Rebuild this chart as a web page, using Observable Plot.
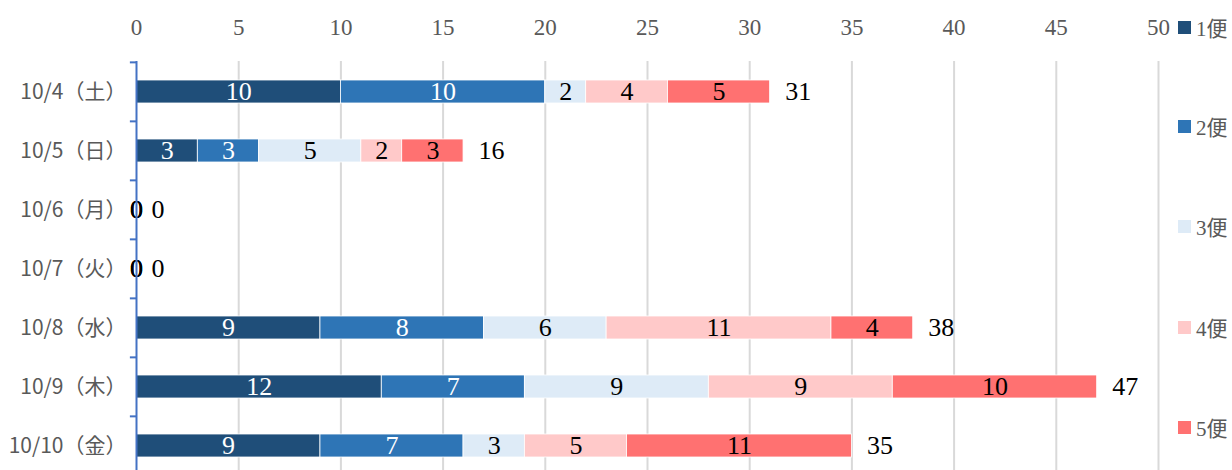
<!DOCTYPE html>
<html>
<head>
<meta charset="utf-8">
<script src="https://cdn.jsdelivr.net/npm/d3@7"></script>
<script src="https://cdn.jsdelivr.net/npm/@observablehq/plot@0.6"></script>
<style>
  html, body { margin: 0; padding: 0; background: #fff; }
  #wrap { position: relative; width: 1232px; height: 470px; overflow: hidden; }
  #legend { position: absolute; left: 1178px; top: 0; font-family: "Liberation Serif", "Noto Sans CJK JP", serif; font-size: 21px; color: #595959; }
  .item { position: absolute; left: 0; display: flex; align-items: center; white-space: nowrap; }
  .sw { width: 13px; height: 13px; margin-right: 5px; }
</style>
</head>
<body>
<div id="wrap"><div id="legend"></div></div>
<script>
const dates = ["10/4（土）", "10/5（日）", "10/6（月）", "10/7（火）", "10/8（水）", "10/9（木）", "10/10（金）"];
const series = ["1便", "2便", "3便", "4便", "5便"];
const v1 = [10, 3, 0, 0, 9, 12, 9];
const v2 = [10, 3, 0, 0, 8, 7, 7];
const v3 = [2, 5, 0, 0, 6, 9, 3];
const v4 = [4, 2, 0, 0, 11, 9, 5];
const v5 = [5, 3, 0, 0, 4, 10, 11];
const totals = [31, 16, 0, 0, 38, 47, 35];
const colors = ["#1F4E79", "#2E75B6", "#DEEBF7", "#FFC9C9", "#FF7171"];
const xTicks = [0, 5, 10, 15, 20, 25, 30, 35, 40, 45, 50];
const gridTicks = [5, 10, 15, 20, 25, 30, 35, 40, 45, 50];
const legendY = [27, 126, 226, 327, 427];

const valueSets = [v1, v2, v3, v4, v5];
const data = [];
dates.forEach((d, i) => {
  series.forEach((s, j) => {
    data.push({date: d, series: s, idx: j, value: valueSets[j][i]});
  });
});
const totalData = dates.map((d, i) => ({date: d, total: totals[i]}));

const yTop = 61, yBottom = 476;
const step = (yBottom - yTop) / dates.length;
const numFont = "Liberation Serif, Times New Roman, serif";

const chart = Plot.plot({
  width: 1232,
  height: 470,
  marginLeft: 136,
  marginRight: 74,
  marginTop: yTop,
  marginBottom: 0,
  style: {background: "transparent", overflow: "hidden"},
  x: {domain: [0, 50], axis: null},
  y: {domain: dates, range: [yTop, yBottom], paddingInner: 0.61, paddingOuter: 0.305, axis: null},
  color: {domain: series, range: colors},
  marks: [
    Plot.ruleX(gridTicks, {stroke: "#D9D9D9", strokeWidth: 2}),
    Plot.barX(data, Plot.stackX({x: "value", y: "date", fill: "series", stroke: "white", strokeWidth: 0.8})),
    Plot.text(data, Plot.stackX({x: "value", y: "date", text: d => d.idx < 2 ? String(d.value) : "", fill: "white", fontSize: 26, fontFamily: numFont})),
    Plot.text(data, Plot.stackX({x: "value", y: "date", text: d => d.idx >= 2 ? String(d.value) : "", fill: "black", fontSize: 26, fontFamily: numFont})),
    Plot.text(totalData, {x: "total", y: "date", text: d => String(d.total), dx: 15, textAnchor: "start", fill: "black", fontSize: 26, fontFamily: numFont}),
    Plot.ruleX([0], {stroke: "#4472C4", strokeWidth: 2}),
    Plot.ruleY(dates, {y: d => d, x1: -0.3, x2: 0, dy: -step / 2, stroke: "#4472C4", strokeWidth: 2}),
    Plot.text(xTicks, {x: d => d, frameAnchor: "top", lineAnchor: "middle", dy: -34, text: d => String(d), fill: "#595959", fontSize: 23, fontFamily: numFont}),
    Plot.text(dates, {y: d => d, frameAnchor: "left", dx: -10, textAnchor: "end", text: d => d, fill: "#595959", fontSize: 21, fontFamily: "Noto Sans CJK JP, sans-serif"})
  ]
});
const wrap = document.getElementById("wrap");
wrap.insertBefore(chart, wrap.firstChild);

const legend = document.getElementById("legend");
series.forEach((s, j) => {
  const item = document.createElement("div");
  item.className = "item";
  item.style.top = (legendY[j] - 14) + "px";
  item.style.height = "28px";
  const sw = document.createElement("div");
  sw.className = "sw";
  sw.style.background = colors[j];
  const t = document.createElement("span");
  t.textContent = s;
  item.appendChild(sw);
  item.appendChild(t);
  legend.appendChild(item);
});
</script>
</body>
</html>
